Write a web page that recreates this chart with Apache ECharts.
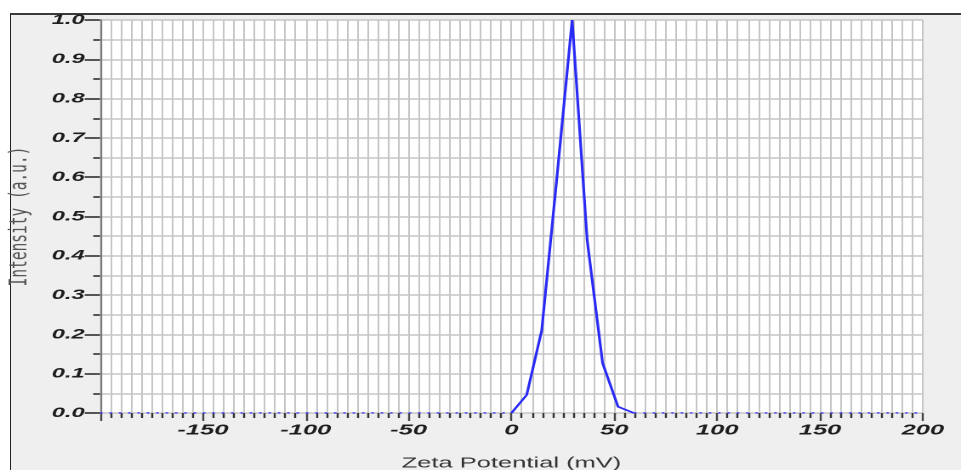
<!DOCTYPE html>
<html>
<head>
<meta charset="utf-8">
<script src="https://cdn.jsdelivr.net/npm/echarts@6/dist/echarts.min.js"></script>
<style>
  html, body { margin: 0; padding: 0; background: #ffffff; }
  #frame {
    position: absolute; left: 10px; top: 13px; width: 951px; height: 457px;
    background: #efefef; border-top: 2px solid #3a3a3a; border-left: 1px solid #222;
    box-sizing: border-box;
  }
  #chart {
    position: absolute; left: 0; top: 0; width: 565px; height: 470px;
    transform: scaleX(1.70088); transform-origin: 0 0;
  }
</style>
</head>
<body>
<div id="frame"></div>
<div id="chart"></div>
<script>
// Data
const zetaPotential = [0, 7.4, 14.7, 22.1, 29.5, 36.8, 44.3, 51.8, 59.5];
const intensity     = [0, 0.046, 0.21, 0.60, 1.0, 0.44, 0.127, 0.016, 0];
const baselineLeftX  = [-200, 0];
const baselineRightX = [59.5, 200];
const baselineY      = [0, 0];
const xAxisRange = [-200, 200];
const yAxisRange = [0, 1];

const peakData = zetaPotential.map((x, i) => [x, intensity[i]]);
const baseLeft = baselineLeftX.map((x, i) => [x, baselineY[i]]);
const baseRight = baselineRightX.map((x, i) => [x, baselineY[i]]);

const chart = echarts.init(document.getElementById('chart'), null, { renderer: 'canvas', devicePixelRatio: 2 });
const gridColor = '#c6c6c6';
const labelFont = { fontFamily: 'Liberation Sans, Arial, sans-serif', fontStyle: 'italic', fontWeight: 'bold', color: '#1e1e1e' };

chart.setOption({
  animation: false,
  backgroundColor: 'transparent',
  grid: { left: 58.8, right: 22.4, top: 20, bottom: 57, show: true, backgroundColor: '#ffffff', borderWidth: 0,
          containLabel: false, outerBoundsMode: 'none' },
  xAxis: {
    type: 'value', min: xAxisRange[0], max: xAxisRange[1], interval: 50,
    axisLine: { show: false, onZero: false },
    axisTick: { show: true, length: 8, lineStyle: { color: '#444', width: 1.2 } },
    minorTick: { show: true, splitNumber: 10, length: 5, lineStyle: { color: '#333', width: 1.2 } },
    splitLine: { show: true, lineStyle: { color: gridColor, width: 1 } },
    minorSplitLine: { show: true, lineStyle: { color: gridColor, width: 1 } },
    axisLabel: Object.assign({ showMinLabel: false, fontSize: 15, margin: 10 }, labelFont),
    name: 'Zeta Potential (mV)', nameLocation: 'middle', nameGap: 43,
    nameTextStyle: { fontFamily: 'Liberation Sans, Arial, sans-serif', fontSize: 15, color: '#333' }
  },
  yAxis: {
    type: 'value', min: yAxisRange[0], max: yAxisRange[1], interval: 0.1,
    axisLine: { show: true, onZero: false, lineStyle: { color: '#7a7a7a', width: 1.2 } },
    axisTick: { show: true, length: 9, lineStyle: { color: '#555', width: 2 } },
    minorTick: { show: true, splitNumber: 2, length: 4, lineStyle: { color: '#555', width: 2 } },
    splitLine: { show: true, lineStyle: { color: gridColor, width: 1.6 } },
    minorSplitLine: { show: true, lineStyle: { color: gridColor, width: 1.6 } },
    axisLabel: Object.assign({ fontSize: 14, margin: 9, formatter: v => v.toFixed(1) }, labelFont),
    name: 'Intensity (a.u.)', nameLocation: 'middle', nameGap: 39,
    nameTextStyle: { fontFamily: 'DejaVu Sans Mono, monospace', fontSize: 14.5, color: '#555' }
  },
  series: [
    { type: 'line', data: peakData, symbol: 'none', lineStyle: { color: '#2a2af5', width: 1.6 }, z: 5 },
    { type: 'line', data: baseLeft, symbol: 'none', lineStyle: { color: '#3a3af5', width: 1.5, type: [1.5, 4] }, z: 4 },
    { type: 'line', data: baseRight, symbol: 'none', lineStyle: { color: '#3a3af5', width: 1.5, type: [1.5, 4] }, z: 4 }
  ]
});
</script>
</body>
</html>
